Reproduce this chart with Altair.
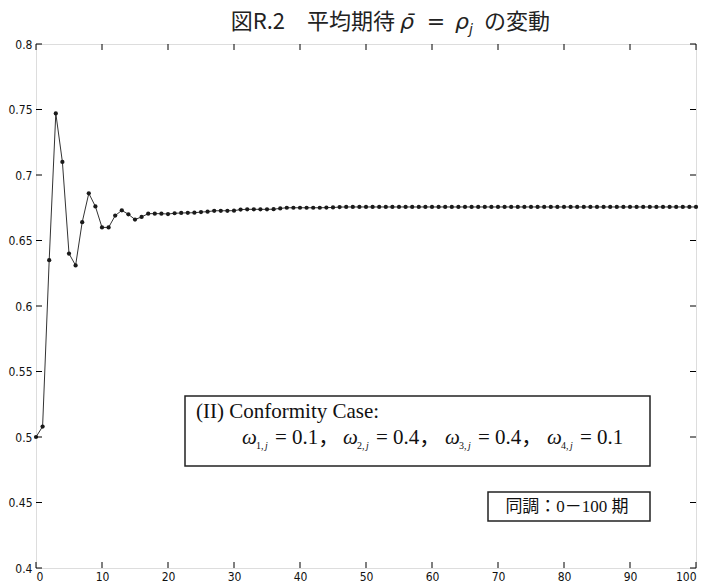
import altair as alt
import pandas as pd

# ---- data ----
periods = list(range(0, 101))
rho_bar = [
    0.500, 0.508, 0.635, 0.747, 0.710, 0.640, 0.631, 0.664, 0.686, 0.676,
    0.660, 0.660, 0.669, 0.673, 0.670, 0.666, 0.668, 0.6705, 0.6705, 0.6705,
    0.6702, 0.6708, 0.6710, 0.6711, 0.6712, 0.6717, 0.6720, 0.6727, 0.6727, 0.6727,
    0.6728, 0.6736, 0.6738, 0.6738, 0.6738, 0.6738, 0.6739, 0.6745, 0.6750, 0.6750,
    0.6750, 0.6750, 0.6750, 0.6750, 0.6751, 0.6752, 0.6755, 0.6756, 0.6756, 0.6756,
    0.6756, 0.6756, 0.6756, 0.6756, 0.6756, 0.6756, 0.6756, 0.6756, 0.6756, 0.6756,
    0.6756, 0.6756, 0.6756, 0.6756, 0.6756, 0.6756, 0.6756, 0.6756, 0.6756, 0.6756,
    0.6756, 0.6756, 0.6756, 0.6756, 0.6756, 0.6756, 0.6756, 0.6756, 0.6756, 0.6756,
    0.6756, 0.6756, 0.6756, 0.6756, 0.6756, 0.6756, 0.6756, 0.6756, 0.6756, 0.6756,
    0.6756, 0.6756, 0.6756, 0.6756, 0.6756, 0.6756, 0.6756, 0.6756, 0.6756, 0.6756,
    0.6756,
]
x_ticks = [0, 10, 20, 30, 40, 50, 60, 70, 80, 90, 100]
y_ticks = [0.4, 0.45, 0.5, 0.55, 0.6, 0.65, 0.7, 0.75, 0.8]

title_left = "図R.2　平均期待"
title_rho_bar = "ρ̄"
title_eq = "="
title_rho = "ρ"
title_sub = "j"
title_right = "の変動"
case_text = "(II) Conformity Case:"
omega_subs = ["1,", "2,", "3,", "4,"]
omega_vals = ["= 0.1，", "= 0.4，", "= 0.4，", "= 0.1"]
period_text = "同調：0－100 期"

W, H = 660, 524
df = pd.DataFrame({"t": periods, "rho": rho_bar})
xt = pd.DataFrame({"v": x_ticks})
yt = pd.DataFrame({"v": y_ticks})
one = pd.DataFrame({"a": [0]})

TICKFONT = "Liberation Sans Narrow, DejaVu Sans Condensed, Liberation Sans"
SERIF = "Liberation Serif, Noto Sans CJK JP"
CJK = "Noto Sans CJK JP"
GREEK = "DejaVu Sans"

xscale = alt.Scale(domain=[0, 100], nice=False)
yscale = alt.Scale(domain=[0.4, 0.8], nice=False, zero=False)

xaxis = alt.Axis(values=x_ticks, ticks=False, domain=False, grid=False, labelFont=TICKFONT,
                 labelFontSize=12, labelPadding=3, labelColor="#111", title=None)
yaxis = alt.Axis(values=y_ticks, ticks=False, domain=False, grid=False, labelFont=TICKFONT,
                 labelFontSize=12, labelPadding=4, labelColor="#111", format=".2~f", title=None)

base = alt.Chart(df).encode(
    x=alt.X("t:Q", scale=xscale, axis=xaxis),
    y=alt.Y("rho:Q", scale=yscale, axis=yaxis),
)
line = base.mark_line(color="#333", strokeWidth=1)
pts = base.mark_circle(size=18, color="#1a1a1a", opacity=1)

TL = 6
tick_style = dict(color="black", strokeWidth=1)
bottom_ticks = alt.Chart(xt).mark_rule(**tick_style).encode(
    x=alt.X("v:Q", scale=xscale), y=alt.value(H), y2=alt.value(H - TL))
top_ticks = alt.Chart(xt).mark_rule(**tick_style).encode(
    x=alt.X("v:Q", scale=xscale), y=alt.value(0), y2=alt.value(TL))
left_ticks = alt.Chart(yt).mark_rule(**tick_style).encode(
    y=alt.Y("v:Q", scale=yscale), x=alt.value(0), x2=alt.value(TL))
right_ticks = alt.Chart(yt).mark_rule(**tick_style).encode(
    y=alt.Y("v:Q", scale=yscale), x=alt.value(W), x2=alt.value(W - TL))


def txt(text, x, y, size, font, style="normal", align="left", baseline="alphabetic", color="#111"):
    return alt.Chart(one).mark_text(
        font=font, fontSize=size, fontStyle=style, align=align, baseline=baseline, color=color
    ).encode(x=alt.value(x), y=alt.value(y), text=alt.value(text))


def box(x1, x2, y1, y2):
    return alt.Chart(one).mark_rect(fill="white", stroke="#222", strokeWidth=1.5).encode(
        x=alt.value(x1), x2=alt.value(x2), y=alt.value(y1), y2=alt.value(y2))


layers = [line, pts, bottom_ticks, top_ticks, left_ticks, right_ticks]

# title, in pieces
TB = -15
TC = "#222"
layers.append(txt(title_left, 359, TB, 22, CJK, align="right", color=TC))
layers.append(txt(title_rho_bar, 364, TB, 22, GREEK, style="italic", color=TC))
layers.append(txt(title_eq, 400, TB, 22, GREEK, align="center", color=TC))
layers.append(txt(title_rho, 419, TB, 22, GREEK, style="italic", color=TC))
layers.append(txt(title_sub, 433, TB + 5, 14, GREEK, style="italic", color=TC))
layers.append(txt(title_right, 448, TB, 22, CJK, color=TC))

# conformity box
layers.append(box(149, 614, 352, 422))
layers.append(txt(case_text, 160, 374, 21, SERIF))
omega_x = [206, 307, 409, 511]
for ox, sub, val in zip(omega_x, omega_subs, omega_vals):
    layers.append(txt("ω", ox, 400, 21, SERIF, style="italic"))
    layers.append(txt(sub + " ", ox + 14, 405, 10, SERIF))
    layers.append(txt("j", ox + 23, 405, 10, SERIF, style="italic"))
    layers.append(txt(val, ox + 33, 400, 21, SERIF))

# period box
layers.append(box(452, 614, 448, 477))
layers.append(txt(period_text, 531, 463, 17, SERIF, align="center", baseline="middle"))

chart = alt.layer(*layers).properties(
    width=W, height=H,
    autosize=alt.AutoSizeParams(type="none"),
    padding={"left": 36, "top": 44, "right": 9, "bottom": 15},
).configure_view(stroke="black", strokeWidth=1.5).configure(background="white")

chart.save("out.html", embed_options={"renderer": "svg", "actions": False})
